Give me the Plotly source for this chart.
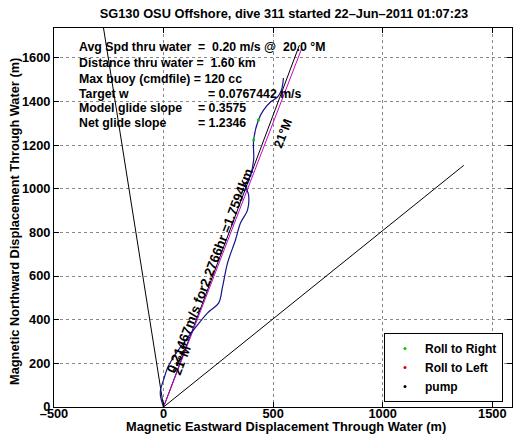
import plotly.graph_objects as go

# ---- data ----
track_x = [0, -14, -14, 0, 18, 46, 91, 137, 201, 251, 269, 292, 328, 351, 383,
           388, 374, 397, 411, 411, 433, 456, 488, 520, 538, 547]
track_y = [0, 50, 78, 124, 179, 229, 293, 353, 431, 476, 550, 660, 765, 843, 902,
           971, 1017, 1063, 1131, 1223, 1315, 1360, 1397, 1420, 1452, 1507]
mag_line_x = [0, 630.5]
mag_line_y = [0, 1642.5]
black_dir_x = [0, 620]
black_dir_y = [0, 1658]
left_line_x = [0, -300]
left_line_y = [0, 1900]
right_line_x = [0, 1370]
right_line_y = [0, 1107]
roll_right_x = [411, 433]
roll_right_y = [1223, 1315]
roll_left_x = [None]
roll_left_y = [None]
pump_x = [None]
pump_y = [None]

x_ticks = [-500, 0, 500, 1000, 1500]
y_ticks = [0, 200, 400, 600, 800, 1000, 1200, 1400, 1600]

title = "SG130 OSU Offshore, dive 311 started 22\u2013Jun\u20132011 01:07:23"
x_title = "Magnetic Eastward Displacement Through Water (m)"
y_title = "Magnetic Northward Displacement Through Water (m)"
info_left = ["Avg Spd thru water\u00a0 =\u00a0 0.20 m/s @\u00a0 20.0 \u00b0M",
             "Distance thru water =\u00a0 1.60 km",
             "Max buoy (cmdfile) = 120 cc",
             "Target w",
             "Model glide slope",
             "Net glide slope"]
info_right = ["", "", "", "= 0.0767442 m/s", "= 0.3575", "= 1.2346"]

FONT = dict(family="Liberation Sans, Arial, sans-serif", size=12.8, color="black", weight="bold")
INFO_FONT = dict(FONT, size=12.3)
LEG_FONT = dict(FONT, size=12)
ROT_FONT = dict(FONT, size=13.3)

fig = go.Figure()
fig.add_trace(go.Scatter(x=left_line_x, y=left_line_y, mode="lines",
                         line=dict(color="black", width=1), showlegend=False))
fig.add_trace(go.Scatter(x=right_line_x, y=right_line_y, mode="lines",
                         line=dict(color="black", width=1), showlegend=False))
fig.add_trace(go.Scatter(x=black_dir_x, y=black_dir_y, mode="lines",
                         line=dict(color="black", width=1), showlegend=False))
fig.add_trace(go.Scatter(x=mag_line_x, y=mag_line_y, mode="lines",
                         line=dict(color="#cc00cc", width=1), showlegend=False))
fig.add_trace(go.Scatter(x=track_x, y=track_y, mode="lines",
                         line=dict(color="#14148c", width=1.2, shape="spline"), showlegend=False))
fig.add_trace(go.Scatter(x=roll_right_x, y=roll_right_y, mode="markers", name="Roll to Right",
                         marker=dict(color="#00cc00", size=3)))
fig.add_trace(go.Scatter(x=roll_left_x, y=roll_left_y, mode="markers", name="Roll to Left",
                         marker=dict(color="#dd0000", size=3)))
fig.add_trace(go.Scatter(x=pump_x, y=pump_y, mode="markers", name="pump",
                         marker=dict(color="black", size=3)))

# the page body has an 8px default margin; lay out in reference pixel coords shifted by it
OFF = 8
W, H = 521 - OFF, 442 - OFF
PL, PR, PT, PB = 54, 512, 28, 407  # plot box in reference pixels
L, T = PL - OFF, PT - OFF
R, B = W - (PR - OFF), H - (PB - OFF)
pw, ph = PR - PL, PB - PT


def px2paper_x(px):
    return (px - PL) / pw


def py2paper_y(py):
    return (PB - py) / ph


annotations = []
line_ys = [47, 63, 79, 94, 108, 123]
for tl, tr, py in zip(info_left, info_right, line_ys):
    annotations.append(dict(text=tl, x=px2paper_x(78), y=py2paper_y(py), xref="paper", yref="paper",
                            xanchor="left", yanchor="middle", showarrow=False, font=INFO_FONT, borderpad=0))
    if tr:
        rx = 207 if tr.startswith("= 0.07") else 197
        annotations.append(dict(text=tr, x=px2paper_x(rx), y=py2paper_y(py), xref="paper", yref="paper",
                                xanchor="left", yanchor="middle", showarrow=False, font=INFO_FONT, borderpad=0))

annotations.append(dict(text="0.21467m/s for2.2766hr =1.7594km", x=212, y=625, xref="x", yref="y",
                        textangle=-69, showarrow=False, font=ROT_FONT, borderpad=0))
annotations.append(dict(text="21\u00b0M", x=80, y=215, xref="x", yref="y",
                        textangle=-69, showarrow=False, font=FONT, borderpad=0))
annotations.append(dict(text="21\u00b0M", x=542, y=1255, xref="x", yref="y",
                        textangle=-69, showarrow=False, font=FONT, borderpad=0))
annotations.append(dict(text=x_title, x=px2paper_x(286), y=py2paper_y(426.5), xref="paper", yref="paper",
                        xanchor="center", yanchor="middle", showarrow=False, font=FONT, borderpad=0))
annotations.append(dict(text=y_title, x=px2paper_x(14), y=py2paper_y(222), xref="paper", yref="paper",
                        xanchor="center", yanchor="middle", textangle=-90, showarrow=False, font=FONT,
                        borderpad=0))

axis_common = dict(showline=True, linecolor="black", linewidth=1, mirror="ticks",
                   ticks="inside", ticklen=5, tickcolor="black", showgrid=True,
                   gridcolor="#888888", griddash="dot", gridwidth=1, zeroline=False,
                   tickfont=FONT, automargin=False)

fig.update_layout(
    width=W, height=H,
    margin=dict(l=L, r=R, t=T, b=B, pad=0),
    paper_bgcolor="white", plot_bgcolor="white",
    title=dict(text=title, x=px2paper_x(284), xref="paper", xanchor="center",
               y=1 - 1 / H, yanchor="top", font=FONT, pad=dict(t=0, b=0)),
    xaxis=dict(range=[-500, 1590], tickvals=x_ticks,
               ticktext=[("\u2013500" if v < 0 else str(v)) for v in x_ticks],
               ticklabelstandoff=-5, **axis_common),
    yaxis=dict(range=[0, 1736], tickvals=y_ticks, **axis_common),
    legend=dict(x=px2paper_x(503), xanchor="right", y=py2paper_y(402), yanchor="bottom",
                bgcolor="white", bordercolor="black", borderwidth=1, font=LEG_FONT,
                tracegroupgap=0, itemsizing="trace"),
    annotations=annotations,
    showlegend=True,
)

fig.write_html("out.html")
